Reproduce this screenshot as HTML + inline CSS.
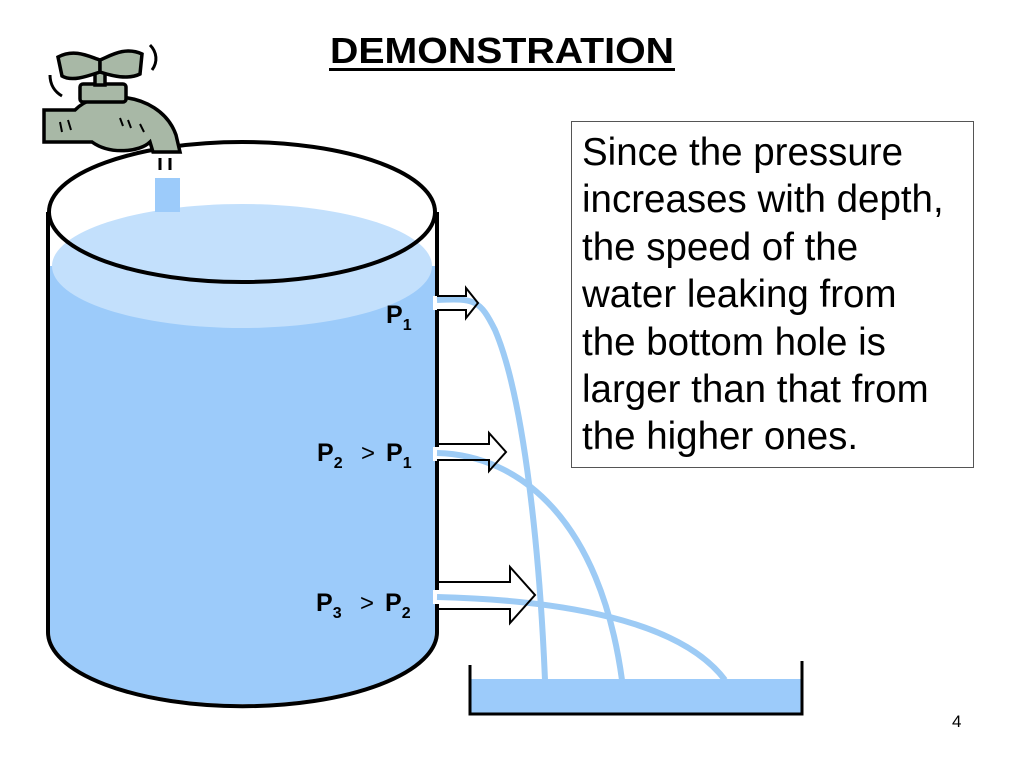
<!DOCTYPE html>
<html><head><meta charset="utf-8"><style>
html,body{margin:0;padding:0;background:#fff;width:1024px;height:768px;overflow:hidden}
svg{display:block}
</style></head><body>
<svg width="1024" height="768" viewBox="0 0 1024 768" xmlns="http://www.w3.org/2000/svg" font-family="Liberation Sans, sans-serif">
<!-- title -->
<text x="330" y="63" font-size="36" font-weight="bold" textLength="344" lengthAdjust="spacingAndGlyphs">DEMONSTRATION</text>
<rect x="329" y="68" width="346" height="3" fill="#000"/>
<!-- tank body water -->
<path d="M50,266 L50,632 A192 72 0 0 0 435,632 L435,266 Z" fill="#9ccbfa"/>
<ellipse cx="242" cy="266" rx="190" ry="62" fill="#c3e0fc"/>
<!-- faucet stream -->
<rect x="155" y="178" width="25" height="34" fill="#9ccbfa"/>
<!-- top rim -->
<ellipse cx="242" cy="212" rx="193" ry="70" fill="none" stroke="#000" stroke-width="4"/>
<!-- walls -->
<path d="M48,212 L48,632 A194 74 0 0 0 437,632 L437,212" fill="none" stroke="#000" stroke-width="4"/>
<!-- holes -->
<rect x="433" y="296" width="8" height="14" fill="#fff"/>
<rect x="433" y="447" width="8" height="14" fill="#fff"/>
<rect x="433" y="590" width="8" height="14" fill="#fff"/>
<!-- jets -->
<g fill="none" stroke="#9dcbf5" stroke-width="6">
<path d="M437,300 C475,298 480,300 495,330 C525,400 540,560 545,680"/>
<path d="M437,453 C520,455 600,520 622,680"/>
<path d="M437,597 C560,600 680,620 725,680"/>
</g>
<!-- arrows -->
<g fill="none" stroke="#000" stroke-width="2">
<path d="M437,296 H466 V288 L478,303 L466,318 V310 H437"/>
<path d="M437,444 H489 V433 L506,452 L489,471 V460 H437"/>
<path d="M437,582 H510 V567 L535,595 L510,623 V609 H437"/>
</g>
<!-- labels -->
<g font-weight="bold" font-size="25">
<text x="386" y="323">P<tspan font-size="16" dy="7">1</tspan></text>
<text x="317" y="461">P<tspan font-size="16" dy="7">2</tspan></text>
<text x="361" y="461" font-weight="normal" font-size="24">&gt;</text>
<text x="386" y="461">P<tspan font-size="16" dy="7">1</tspan></text>
<text x="316" y="611">P<tspan font-size="16" dy="7">3</tspan></text>
<text x="360" y="611" font-weight="normal" font-size="24">&gt;</text>
<text x="385" y="611">P<tspan font-size="16" dy="7">2</tspan></text>
</g>
<!-- tray -->
<rect x="470" y="679" width="332" height="35" fill="#9ccbfa"/>
<path d="M470,665 V714 H802 V661" fill="none" stroke="#000" stroke-width="3"/>
<!-- faucet -->
<g stroke="#000" stroke-width="3.5" fill="#a8b8a6">
<path d="M44,110 H75 C85,100 100,95 118,97 C145,98 168,112 176,135 L180,152 H153 L150,142 C140,152 110,155 92,142 H44 Z"/>
<rect x="80" y="84" width="46" height="18" rx="3"/>
<rect x="95" y="70" width="10" height="15"/>
<path d="M58,57 C75,48 90,57 100,60 L100,72 C88,76 72,82 62,76 Z"/>
<path d="M142,54 C125,46 110,56 100,60 L100,72 C112,76 128,80 140,74 Z"/>
</g>
<g stroke="#000" stroke-width="2" fill="none">
<path d="M60,122 l2,10 M68,120 l3,10 M120,118 l3,8 M128,120 l3,8 M140,124 l4,8"/>
</g>
<g stroke="#000" stroke-width="3" fill="none">
<path d="M50,75 C50,85 55,92 62,96"/>
<path d="M150,45 C157,52 158,62 152,70"/>
<path d="M160,158 V170 M170,158 V170"/>
</g>
<!-- text box -->
<rect x="571.5" y="121.5" width="402" height="346" fill="#fff" stroke="#555" stroke-width="1"/>
<g font-size="38.5" fill="#000">
<text x="582" y="165">Since the pressure</text>
<text x="582" y="212">increases with depth,</text>
<text x="582" y="260">the speed of the</text>
<text x="582" y="307">water leaking from</text>
<text x="582" y="355">the bottom hole is</text>
<text x="582" y="402">larger than that from</text>
<text x="582" y="449">the higher ones.</text>
</g>
<text x="952" y="727" font-size="17">4</text>
</svg>
</body></html>
